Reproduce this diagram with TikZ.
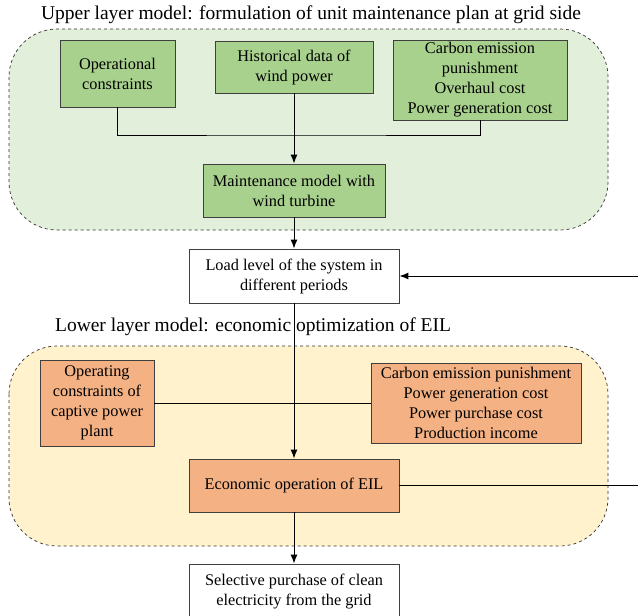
\documentclass[tikz,border=0pt]{standalone}
\usepackage{fontspec}
\setmainfont{Liberation Serif}
\usepackage{tikz}
\usetikzlibrary{arrows.meta}

\definecolor{upfill}{HTML}{E2EFDA}
\definecolor{upbox}{HTML}{A9D18E}
\definecolor{lowfill}{HTML}{FFF2CC}
\definecolor{lowbox}{HTML}{F4B183}
\definecolor{edge}{HTML}{3F3F3F}

\tikzset{
  >={Latex[length=9pt,width=7pt]},
  layer/.style={draw=black!80, dashed, rounded corners=48pt, line width=0.7pt},
  box/.style={draw=edge, line width=0.9pt, align=center, inner sep=2pt,
    font=\fontsize{16.3}{20}\selectfont},
  greenbox/.style={box, fill=upbox},
  orangebox/.style={box, fill=lowbox},
  whitebox/.style={box, fill=white},
  link/.style={line width=1pt},
  headline/.style={font=\fontsize{19.5}{23}\selectfont}
}

\begin{document}
\begin{tikzpicture}[x=1pt, y=-1pt]
\useasboundingbox (0, 0) rectangle (638, 616);

% the two layers
\draw[layer, fill=upfill] (9, 29) rectangle (608, 230);
\draw[layer, fill=lowfill] (9, 346) rectangle (608, 546);
\node[headline] (uptitle) at (311, 15) {Upper layer model: formulation of unit maintenance plan at grid side};
\node[headline] (lowtitle) at (253, 327) {Lower layer model: economic optimization of EIL};

% upper layer
\node[greenbox, minimum width=115pt, minimum height=67pt] (opcon) at (117.5, 73.5) {Operational\\constraints};
\node[greenbox, minimum width=158pt, minimum height=52pt] (hist) at (294, 67) {Historical data of\\wind power};
\node[greenbox, minimum width=174pt, minimum height=80pt] (upcost) at (480, 80) {Carbon emission\\punishment\\Overhaul cost\\Power generation cost};
\node[greenbox, minimum width=182pt, minimum height=53pt] (maint) at (294, 190.5) {Maintenance model with\\wind turbine};
\coordinate (join) at (294, 135);

% between the layers
\node[whitebox, minimum width=210pt, minimum height=54pt] (load) at (294, 276) {Load level of the system in\\different periods};

% lower layer
\node[orangebox, minimum width=114pt, minimum height=86pt] (captive) at (97, 403) {Operating\\constraints of\\captive power\\plant};
\node[orangebox, minimum width=210pt, minimum height=80pt] (lowcost) at (476, 403) {Carbon emission punishment\\Power generation cost\\Power purchase cost\\Production income};
\node[orangebox, minimum width=210pt, minimum height=53pt] (econ) at (294, 485.5) {Economic operation of EIL};
\node[whitebox, minimum width=210pt, minimum height=56pt] (select) at (294, 592) {Selective purchase of clean\\electricity from the grid};

\coordinate (backin) at (638, 276);
\coordinate (backout) at (638, 485.5);

% connectors
\draw[link] (opcon.south) |- (join) -| (upcost.south);
\draw[link, ->] (hist.south) -- (maint.north);
\draw[link, ->] (maint.south) -- (load.north);
\draw[link, ->] (backin) -- (load.east);
\draw[link, ->] (load.south) -- (econ.north);
\draw[link] (captive.east) -- (lowcost.west);
\draw[link] (econ.east) -- (backout);
\draw[link, ->] (econ.south) -- (select.north);
\end{tikzpicture}
\end{document}
